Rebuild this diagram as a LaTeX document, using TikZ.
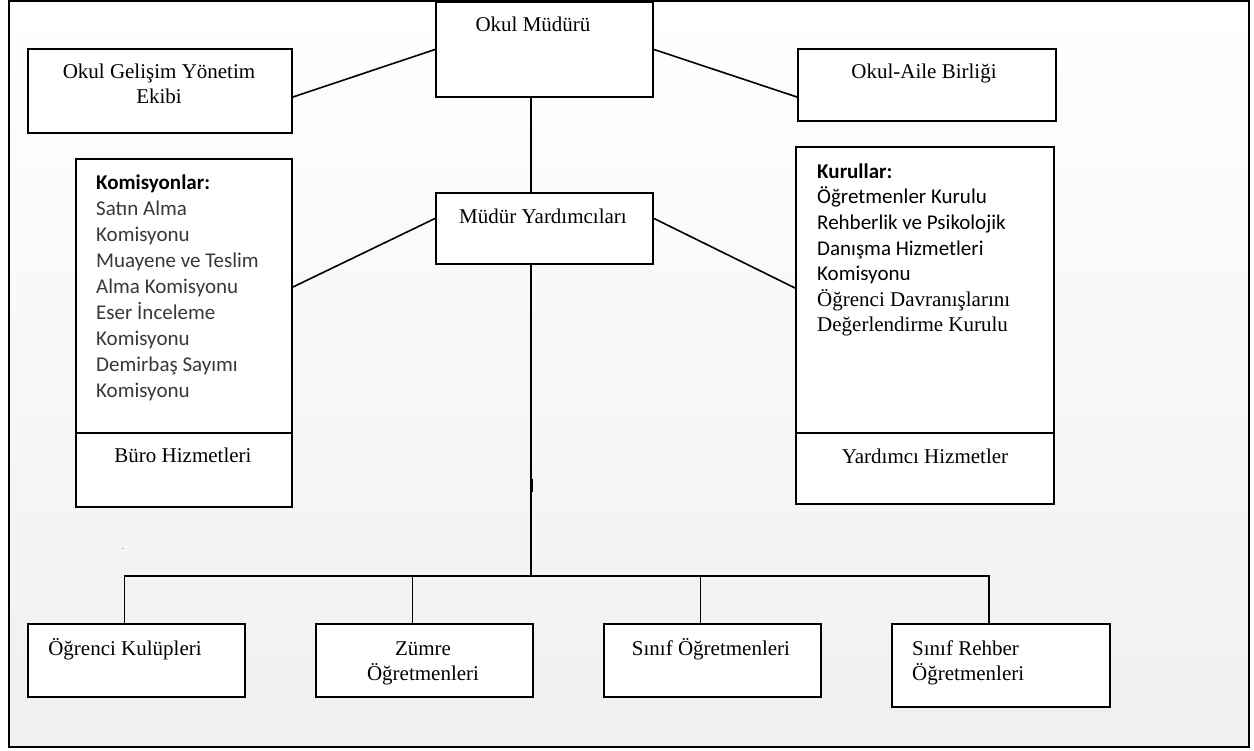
\documentclass[tikz,border=0pt]{standalone}
\usepackage{fontspec}
\setmainfont{Liberation Serif}
\newfontfamily\calfont{Carlito}
\usetikzlibrary{calc}
\begin{document}
\begin{tikzpicture}[x=1pt,y=-1pt,
  box/.style={draw=black,line width=2pt,fill=white,inner sep=0pt,anchor=north west},
  conn/.style={line width=1.6pt},
  ser/.style={font=\fontsize{21}{25}\selectfont,inner sep=0pt,anchor=base},
  serl/.style={ser,anchor=base west},
  cal/.style={font=\calfont\fontsize{21}{26}\selectfont,inner sep=0pt,anchor=base west},
  callist/.style={cal,text=black!78},
]
\useasboundingbox (0,0) rectangle (1254,751);
\shade[top color=white,bottom color=black!6] (9,1) rectangle (1249,747);
\draw[line width=2pt] (9,1) rectangle (1249,747);

% boxes
\node[box,minimum width=217pt,minimum height=95pt] (mudur) at (435,1) {};
\node[box,minimum width=264pt,minimum height=84pt] (ogye) at (27,48) {};
\node[box,minimum width=258pt,minimum height=72pt] (oab) at (797,48) {};
\node[box,minimum width=217pt,minimum height=71pt] (my) at (435,192) {};
\node[box,minimum width=216pt,minimum height=274pt] (kom) at (75,158) {};
\node[box,minimum width=216pt,minimum height=74pt] (buro) at (75,432) {};
\node[box,minimum width=258pt,minimum height=286pt] (kur) at (795,146) {};
\node[box,minimum width=258pt,minimum height=71pt] (yard) at (795,432) {};
\node[box,minimum width=217pt,minimum height=73pt] (ok) at (27,623) {};
\node[box,minimum width=217pt,minimum height=73pt] (zum) at (315,623) {};
\node[box,minimum width=217pt,minimum height=73pt] (sog) at (603,623) {};
\node[box,minimum width=218pt,minimum height=83pt] (srh) at (891,623) {};

% texts
\node[ser] (t-mudur) at (533,32) {Okul Müdürü};
\node[ser] (t-ogye1) at (159,79) {Okul Gelişim Yönetim};
\node[ser] (t-ogye2) at (159,104) {Ekibi};
\node[ser] (t-oab) at (924,79) {Okul-Aile Birliği};
\node[ser] (t-my) at (543,224) {Müdür Yardımcıları};
\node[ser] (t-buro) at (183,463) {Büro Hizmetleri};
\node[ser] (t-yard) at (925,464) {Yardımcı Hizmetler};
\node[ser] (t-ok) at (125,655) {Öğrenci Kulüpleri};
\node[ser] (t-zum1) at (423,655) {Zümre};
\node[ser] (t-zum2) at (423,680) {Öğretmenleri};
\node[ser] (t-sog) at (711,655) {Sınıf Öğretmenleri};
\node[serl] (t-srh1) at (912,655) {Sınıf Rehber};
\node[serl] (t-srh2) at (912,680) {Öğretmenleri};

\node[cal,font=\calfont\bfseries\fontsize{21}{26}\selectfont] (k0) at (96,190) {Komisyonlar:};
\foreach \t [count=\i] in {Satın Alma,Komisyonu,Muayene ve Teslim,Alma Komisyonu,Eser İnceleme,Komisyonu,Demirbaş Sayımı,Komisyonu}
  \node[callist] (k\i) at (96,{190+26*\i}) {\t};

\node[cal,font=\calfont\bfseries\fontsize{21}{26}\selectfont] (r0) at (817,179) {Kurullar:};
\foreach \t [count=\i] in {Öğretmenler Kurulu,Rehberlik ve Psikolojik,Danışma Hizmetleri,Komisyonu}
  \node[cal] (r\i) at (817,{178+25.7*\i}) {\t};
\node[serl] (r5) at (817,307) {Öğrenci Davranışlarını};
\node[serl] (r6) at (817,332) {Değerlendirme Kurulu};

\node[font=\fontsize{9}{9}\selectfont,inner sep=0pt,text=black!75] (stray) at (123,549) {.};

% connectors
\coordinate (spine) at (531,0);
\coordinate (bus) at (531,576);
\draw[conn] (mudur.west) -- ([yshift=-6pt]ogye.east);
\draw[conn] (mudur.east) -- ([yshift=-12pt]oab.west);
\draw[conn] (mudur.south -| spine) -- (my.north -| spine);
\draw[conn] ([yshift=10pt]my.west) -- ([yshift=9pt]kom.east);
\draw[conn] ([yshift=10pt]my.east) -- ([yshift=2pt]kur.west);
\draw[conn] (my.south -| spine) -- (bus);
\draw[line width=3pt] ($(bus)+(0,-97)$) -- ($(bus)+(0,-84)$);
\coordinate (d1) at ($(ok.north)+(-12,0)$);
\coordinate (d2) at ($(zum.north)+(-12,0)$);
\coordinate (d3) at ($(sog.north)+(-12,0)$);
\coordinate (d4) at ($(srh.north)+(-12,0)$);
\draw[conn] (d1) |- (d4 |- bus) -- (d4);
\draw[conn] (d2) -- (d2 |- bus);
\draw[conn] (d3) -- (d3 |- bus);
\end{tikzpicture}
\end{document}
